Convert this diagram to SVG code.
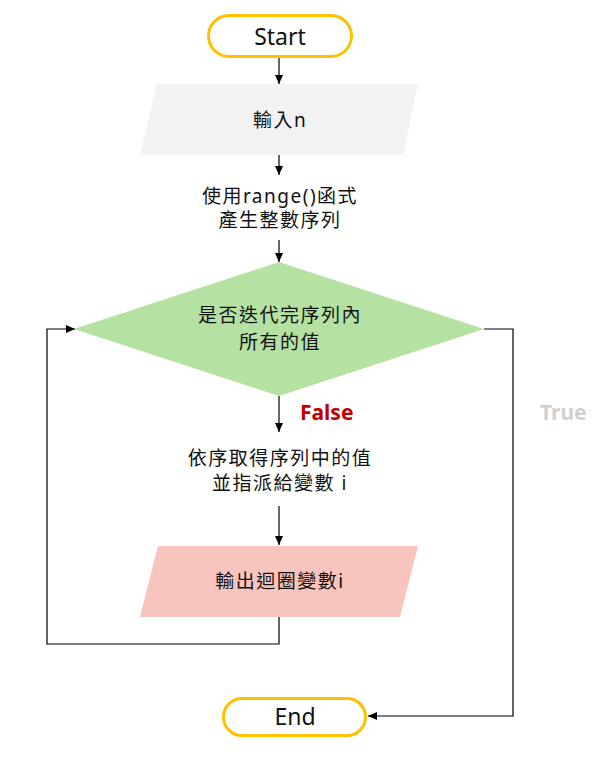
<svg xmlns="http://www.w3.org/2000/svg" width="600" height="759" viewBox="0 0 600 759">
  <style>
    .term { fill: #ffffff; stroke: #FFC000; stroke-width: 3; }
    .lat { font-family: "Noto Sans", "Open Sans", sans-serif; font-size: 23px; fill: #111111; text-anchor: middle; }
    .cjk { font-family: "Noto Sans", "Noto Sans CJK TC", sans-serif; font-size: 19px; letter-spacing: 1.5px; fill: #111111; text-anchor: middle; }
    .lbl { font-family: "Noto Sans", "Open Sans", sans-serif; font-size: 21px; font-weight: bold; }
    .edge { fill: none; stroke: #000000; stroke-width: 1.2; }
  </style>
  <defs>
    <marker id="arrow" markerWidth="10" markerHeight="10" refX="9" refY="5" orient="auto" markerUnits="userSpaceOnUse">
      <path d="M0,1 L9,5 L0,9 Z" fill="#000000"/>
    </marker>
  </defs>

  <rect width="600" height="759" fill="#ffffff"/>

  <g id="connectors">
    <line class="edge" x1="279" y1="58" x2="279" y2="84" marker-end="url(#arrow)"/>
    <line class="edge" x1="279" y1="155" x2="279" y2="175" marker-end="url(#arrow)"/>
    <line class="edge" x1="279" y1="240" x2="279" y2="262" marker-end="url(#arrow)"/>
    <line class="edge" x1="279" y1="396" x2="279" y2="432" marker-end="url(#arrow)"/>
    <line class="edge" x1="279" y1="506" x2="279" y2="545" marker-end="url(#arrow)"/>
    <polyline class="edge" points="279,617 279,644 47,644 47,329 75,329" marker-end="url(#arrow)"/>
    <polyline class="edge" points="484,329 513,329 513,716 368,716" marker-end="url(#arrow)"/>
    <text class="lbl" x="300" y="420" fill="#C00000">False</text>
    <text class="lbl" x="540" y="420" fill="#D0D0D0">True</text>
  </g>

  <g id="start">
    <rect class="term" x="208.5" y="15.5" width="143" height="41" rx="20.5"/>
    <text class="lat" x="280" y="45">Start</text>
  </g>

  <g id="input-n">
    <polygon points="157,84 418,84 403,155 140,155" fill="#F2F2F2"/>
    <text class="cjk" x="280" y="127">輸入n</text>
  </g>

  <g id="make-range">
    <text class="cjk" x="280" y="203">使用range()函式</text>
    <text class="cjk" x="280" y="227">產生整數序列</text>
  </g>

  <g id="check-done">
    <polygon points="279,262 484,329 279,396 74,329" fill="#B5E1A3"/>
    <text class="cjk" x="280" y="322">是否迭代完序列內</text>
    <text class="cjk" x="280" y="349">所有的值</text>
  </g>

  <g id="take-next">
    <text class="cjk" x="280" y="465">依序取得序列中的值</text>
    <text class="cjk" x="280" y="490">並指派給變數 i</text>
  </g>

  <g id="output-i">
    <polygon points="158,546 418,546 400,617 140,617" fill="#F8C4BE"/>
    <text class="cjk" x="280" y="588">輸出迴圈變數i</text>
  </g>

  <g id="end">
    <rect class="term" x="223.5" y="698.5" width="142" height="37" rx="18.5"/>
    <text class="lat" x="295" y="725">End</text>
  </g>
</svg>
